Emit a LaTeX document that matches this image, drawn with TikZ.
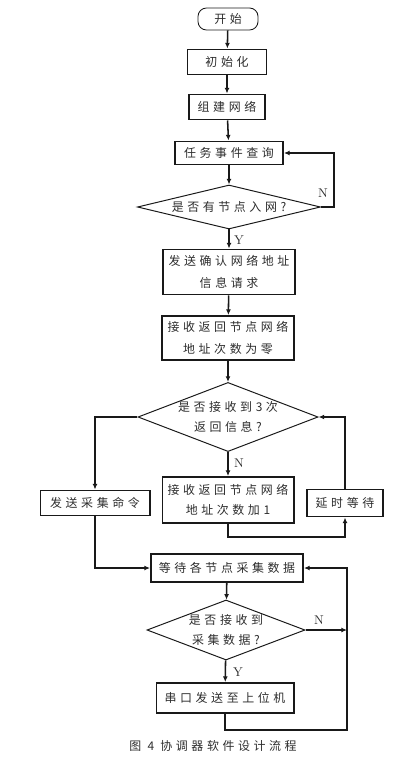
\documentclass[tikz,border=0pt]{standalone}
\usepackage{fontspec}
\usepackage{tikz}
\usetikzlibrary{arrows.meta,shapes.geometric}
\newfontfamily\cjk[LetterSpace=30]{Noto Sans CJK SC}
\definecolor{fctext}{RGB}{45,45,45}
\definecolor{fcline}{RGB}{25,25,25}

\tikzset{
  fcfont/.style={font=\cjk\fontsize{8.5}{14}\selectfont, text=fctext},
  procbox/.style={draw=fcline, line width=1.4pt, fcfont, inner sep=0pt, align=center},
  startbox/.style={draw=fcline, line width=0.6pt, rounded corners=6pt, fcfont, inner sep=0pt},
  decbox/.style={diamond, draw=fcline, line width=0.7pt, fcfont, inner sep=0pt, align=center},
  arr/.style={draw=fcline, line width=1.1pt, -{Latex[length=4pt,width=3.5pt]}},
  yn/.style={font=\fontsize{9}{10}\selectfont, text=fctext, inner sep=0pt}
}

\begin{document}
\begin{tikzpicture}[x=0.025cm, y=-0.025cm]
\useasboundingbox (0,0) rectangle (407,767);
% Top part
\node[startbox, minimum width=1.5cm, minimum height=0.55cm] (start) at (228,19) {开始};
\node[procbox, minimum width=1.975cm, minimum height=0.625cm] (init) at (227,62) {初始化};
\node[procbox, minimum width=1.9cm, minimum height=0.625cm] (build) at (227,107) {组建网络};
\node[procbox, minimum width=2.7cm, minimum height=0.575cm] (query) at (229,153) {任务事件查询};
\node[decbox, aspect=4.2, minimum width=4.575cm, minimum height=1.1cm] (join) at (229,207) {是否有节点入网?};
\node[procbox, minimum width=3.3cm, minimum height=1.125cm] (confirm) at (229,272) {发送确认网络地址\\[2pt]信息请求};
\node[procbox, minimum width=3.3cm, minimum height=1.1cm] (reset) at (228,338) {接收返回节点网络\\[2pt]地址次数为零};
% Middle part
\node[decbox, aspect=2.6, minimum width=4.5cm, minimum height=1.725cm] (thrice) at (228,417) {是否接收到3次\\返回信息?};
\node[procbox, minimum width=2.725cm, minimum height=0.625cm] (send) at (95,503) {发送采集命令};
\node[procbox, minimum width=3.275cm, minimum height=1.15cm] (inc) at (228,500) {接收返回节点网络\\地址次数加1};
\node[procbox, minimum width=1.9cm, minimum height=0.675cm] (delay) at (345,503) {延时等待};
% Bottom part
\node[procbox, minimum width=3.8cm, minimum height=0.7cm] (wait) at (227,568) {等待各节点采集数据};
\node[decbox, aspect=2.63, minimum width=3.95cm, minimum height=1.5cm] (got) at (226,630) {是否接收到\\采集数据?};
\node[procbox, minimum width=3.425cm, minimum height=0.75cm] (upload) at (225,698) {串口发送至上位机};
\node[fcfont] (caption) at (213,746) {图 4 协调器软件设计流程};
\coordinate (loop) at (347,568);

% Connectors
\draw[arr] (start) -- (init);
\draw[arr] (init) -- (build);
\draw[arr] (build) -- (query);
\draw[arr] (query) -- (join);
\draw[arr] (join.east) -- ++(13,0) |- (query.east);
\node[yn] (n1) at (323,193) {N};
\draw[arr] (join) -- (confirm);
\node[yn] (y1) at (239,240) {Y};
\draw[arr] (confirm) -- (reset);
\draw[arr] (reset) -- (thrice);
\draw[arr] (thrice.west) -| (send.north);
\draw[arr] (thrice) -- (inc);
\node[yn] (n2) at (239,463) {N};
\draw[arr] (delay.north) |- (thrice.east);
\draw[arr] (inc.south) -- ++(0,13) -| (delay.south);
\draw[arr] (send.south) |- (wait.west);
\draw[arr] (wait) -- (got);
\draw[arr] (got.east) -- (got.east -| loop);
\node[yn] (n3) at (319,620) {N};
\draw[arr] (got) -- (upload);
\node[yn] (y2) at (238,672) {Y};
\draw[arr] (upload.south) -- ++(0,16) -| (loop) -- (wait.east);
\end{tikzpicture}
\end{document}
